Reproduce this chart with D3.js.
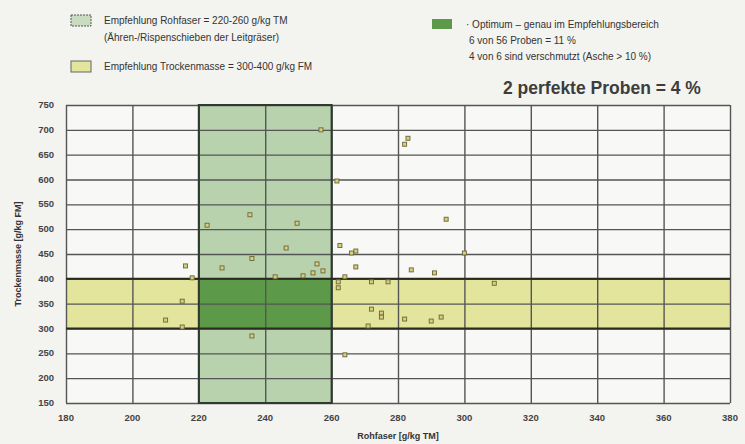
<!DOCTYPE html>
<html>
<head>
  <meta charset="utf-8">
  <title>Rohfaser / Trockenmasse</title>
  <script src="https://d3js.org/d3.v7.min.js"></script>
  <style>
    body, html {
      margin: 0;
      padding: 0;
      background: #f3f3f0;
    }
    body {
      font-family: "Liberation Sans", Arial, Helvetica, sans-serif;
    }
    .legend-text {
      font-size: 10px;
      fill: #333;
    }
    .tick-label {
      font-size: 9.5px;
      font-weight: bold;
      fill: #444;
    }
    .axis-title {
      font-size: 9px;
      font-weight: bold;
      fill: #333;
    }
    .grid line {
      stroke: #555;
      stroke-width: 1.4;
    }
    .grid .domain {
      display: none;
    }
  </style>
</head>
<body>
  <div id="chart"></div>

  <script>
    // Rohfaser [g/kg TM]
    const rohfaser = [256.8, 261.6, 235.4, 222.5, 249.6, 246.3, 262.5, 266, 267.3, 236,
      216, 227, 218, 243, 215, 210, 215, 236, 255.6, 254.4,
      257.4, 251.4, 267.3, 264, 262, 262, 272, 277, 272, 275,
      275, 271, 282, 264, 284, 291, 300, 309, 290, 293,
      283, 282, 294.5]
    // Trockenmasse [g/kg FM]
    const trockenmasse = [700, 597, 529, 508, 512, 462, 467, 452, 456, 441,
      426, 422, 402, 404, 355, 317, 303, 285, 430, 412,
      416, 406, 424, 404, 394, 382, 394, 394, 339, 331,
      323, 305, 319, 247, 418, 412, 452, 391, 315, 323,
      683, 671, 520]

    const xTicks = [180, 200, 220, 240, 260, 280, 300, 320, 340, 360, 380]
    const yTicks = [150, 200, 250, 300, 350, 400, 450, 500, 550, 600, 650, 700, 750]

    // Empfehlungsbereiche
    const rohfaserRange = [220, 260]
    const trockenRange = [300, 400]

    const W = 745, H = 444
    const margin = { left: 66, right: 15, top: 105, bottom: 41 }

    const svg = d3.select('#chart').append('svg')
      .attr('width', W)
      .attr('height', H)

    const xScale = d3.scaleLinear()
      .domain([180, 380])
      .range([margin.left, W - margin.right])

    const yScale = d3.scaleLinear()
      .domain([150, 750])
      .range([H - margin.bottom, margin.top])

    // plot background
    svg.append('rect')
      .attr('x', xScale(180))
      .attr('y', yScale(750))
      .attr('width', xScale(380) - xScale(180))
      .attr('height', yScale(150) - yScale(750))
      .attr('fill', '#f8f8f6')

    // yellow band (Trockenmasse)
    svg.append('rect')
      .attr('x', xScale(180))
      .attr('y', yScale(trockenRange[1]))
      .attr('width', xScale(380) - xScale(180))
      .attr('height', yScale(trockenRange[0]) - yScale(trockenRange[1]))
      .attr('fill', '#e4e59c')

    // light green column (Rohfaser)
    svg.append('rect')
      .attr('x', xScale(rohfaserRange[0]))
      .attr('y', yScale(750))
      .attr('width', xScale(rohfaserRange[1]) - xScale(rohfaserRange[0]))
      .attr('height', yScale(150) - yScale(750))
      .attr('fill', '#b8d2ae')

    // dark green optimum
    svg.append('rect')
      .attr('x', xScale(rohfaserRange[0]))
      .attr('y', yScale(trockenRange[1]))
      .attr('width', xScale(rohfaserRange[1]) - xScale(rohfaserRange[0]))
      .attr('height', yScale(trockenRange[0]) - yScale(trockenRange[1]))
      .attr('fill', '#5c9a4a')

    // grid
    svg.append('g')
      .attr('class', 'grid')
      .attr('transform', `translate(0,${yScale(150)})`)
      .call(d3.axisBottom(xScale).tickValues(xTicks).tickSize(-(yScale(150) - yScale(750))).tickFormat(''))
    svg.append('g')
      .attr('class', 'grid')
      .attr('transform', `translate(${xScale(180)},0)`)
      .call(d3.axisLeft(yScale).tickValues(yTicks).tickSize(-(xScale(380) - xScale(180))).tickFormat(''))

    // band borders
    svg.append('rect')
      .attr('x', xScale(rohfaserRange[0]))
      .attr('y', yScale(750))
      .attr('width', xScale(rohfaserRange[1]) - xScale(rohfaserRange[0]))
      .attr('height', yScale(150) - yScale(750))
      .attr('fill', 'none')
      .attr('stroke', '#2e3a2e')
      .attr('stroke-width', 2)
    ;[trockenRange[0], trockenRange[1]].forEach(v => {
      svg.append('line')
        .attr('x1', xScale(180)).attr('x2', xScale(380))
        .attr('y1', yScale(v)).attr('y2', yScale(v))
        .attr('stroke', '#2a2a20')
        .attr('stroke-width', 2)
    })

    // tick labels
    svg.selectAll('.ytl')
      .data(yTicks)
      .enter()
      .append('text')
      .attr('class', 'tick-label')
      .attr('x', 54)
      .attr('y', d => yScale(d) + 3)
      .attr('text-anchor', 'end')
      .text(d => d)
    svg.selectAll('.xtl')
      .data(xTicks)
      .enter()
      .append('text')
      .attr('class', 'tick-label')
      .attr('x', d => xScale(d))
      .attr('y', 421)
      .attr('text-anchor', 'middle')
      .text(d => d)

    // axis titles
    svg.append('text')
      .attr('class', 'axis-title')
      .attr('x', xScale(280))
      .attr('y', 439)
      .attr('text-anchor', 'middle')
      .text('Rohfaser [g/kg TM]')
    svg.append('text')
      .attr('class', 'axis-title')
      .attr('transform', `translate(21,${yScale(450)}) rotate(-90)`)
      .attr('text-anchor', 'middle')
      .text('Trockenmasse [g/kg FM]')

    // sample points
    const points = rohfaser.map((d, i) => ({ x: d, y: trockenmasse[i] }))
    svg.selectAll('.pt')
      .data(points)
      .enter()
      .append('rect')
      .attr('x', d => xScale(d.x) - 2)
      .attr('y', d => yScale(d.y) - 2)
      .attr('width', 4)
      .attr('height', 4)
      .attr('fill', '#d6cf80')
      .attr('stroke', '#6b6438')
      .attr('stroke-width', 0.9)

    // legend
    const legend = svg.append('g')
    legend.append('rect')
      .attr('x', 71).attr('y', 15).attr('width', 20).attr('height', 11)
      .attr('fill', '#c9dcc0').attr('stroke', '#555').attr('stroke-dasharray', '2,1')
    legend.append('text').attr('class', 'legend-text').attr('x', 104).attr('y', 24)
      .text('Empfehlung  Rohfaser  = 220-260 g/kg TM')
    legend.append('text').attr('class', 'legend-text').attr('x', 104).attr('y', 41)
      .text('(Ähren-/Rispenschieben  der Leitgräser)')
    legend.append('rect')
      .attr('x', 71).attr('y', 61).attr('width', 20).attr('height', 11)
      .attr('fill', '#e4e59c').attr('stroke', '#666')
    legend.append('text').attr('class', 'legend-text').attr('x', 104).attr('y', 70)
      .text('Empfehlung  Trockenmasse  = 300-400 g/kg FM')

    legend.append('rect')
      .attr('x', 432).attr('y', 19).attr('width', 20).attr('height', 10)
      .attr('fill', '#5c9a4a')
    legend.append('text').attr('class', 'legend-text').attr('x', 466).attr('y', 28)
      .text('· Optimum  – genau im Empfehlungsbereich')
    legend.append('text').attr('class', 'legend-text').attr('x', 469).attr('y', 44)
      .text('6 von 56 Proben = 11 %')
    legend.append('text').attr('class', 'legend-text').attr('x', 469).attr('y', 60)
      .text('4 von 6 sind verschmutzt  (Asche > 10 %)')
    legend.append('text')
      .attr('x', 503).attr('y', 94)
      .attr('font-size', '17.5px')
      .attr('font-weight', 'bold')
      .attr('fill', '#3d3d3d')
      .text('2 perfekte Proben = 4 %')
  </script>
</body>
</html>
